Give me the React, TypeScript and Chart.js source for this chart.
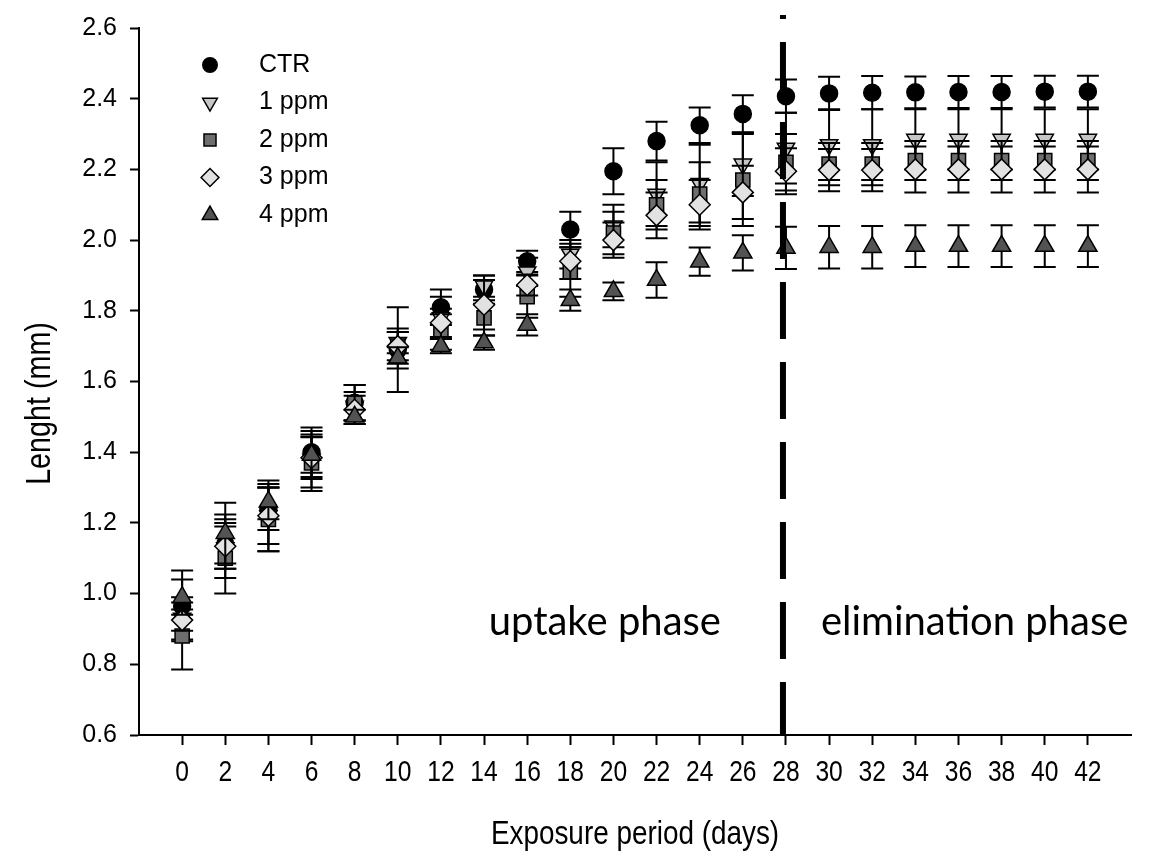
import React, { useEffect, useRef } from 'react';
import { Chart, registerables } from 'chart.js';
import { drawPoint } from 'chart.js/helpers';

Chart.register(...registerables);

// ---------------- data ----------------
const DAYS = [0, 2, 4, 6, 8, 10, 12, 14, 16, 18, 20, 22, 24, 26, 28, 30, 32, 34, 36, 38, 40, 42];

const CTR = [0.965, 1.14, 1.24, 1.40, 1.54, 1.69, 1.81, 1.86, 1.94, 2.03, 2.195, 2.28, 2.325, 2.357, 2.407, 2.415, 2.417, 2.418, 2.419, 2.419, 2.42, 2.42];
const CTR_ERR = [0.10, 0.07, 0.06, 0.07, 0.05, 0.12, 0.05, 0.04, 0.03, 0.05, 0.065, 0.055, 0.05, 0.053, 0.047, 0.047, 0.047, 0.045, 0.045, 0.045, 0.045, 0.045];

const PPM1 = [0.93, 1.13, 1.22, 1.38, 1.53, 1.71, 1.78, 1.87, 1.91, 1.96, 2.04, 2.13, 2.16, 2.215, 2.26, 2.27, 2.27, 2.285, 2.285, 2.285, 2.285, 2.285];
const PPM1_ERR = [0.06, 0.06, 0.08, 0.08, 0.04, 0.03, 0.06, 0.03, 0.04, 0.04, 0.06, 0.09, 0.11, 0.09, 0.10, 0.10, 0.10, 0.085, 0.085, 0.085, 0.085, 0.085];

const PPM2 = [0.88, 1.10, 1.21, 1.37, 1.54, 1.70, 1.74, 1.78, 1.84, 1.91, 2.02, 2.10, 2.13, 2.17, 2.22, 2.215, 2.215, 2.225, 2.225, 2.225, 2.225, 2.225];
const PPM2_ERR = [0.095, 0.10, 0.09, 0.08, 0.05, 0.05, 0.05, 0.05, 0.06, 0.07, 0.06, 0.07, 0.09, 0.13, 0.08, 0.06, 0.06, 0.055, 0.055, 0.055, 0.055, 0.055];

const PPM3 = [0.925, 1.134, 1.22, 1.384, 1.52, 1.70, 1.766, 1.817, 1.873, 1.94, 2.0, 2.07, 2.10, 2.135, 2.195, 2.198, 2.198, 2.20, 2.20, 2.20, 2.20, 2.20];
const PPM3_ERR = [0.03, 0.09, 0.10, 0.06, 0.04, 0.04, 0.04, 0.07, 0.03, 0.05, 0.05, 0.065, 0.07, 0.075, 0.065, 0.06, 0.06, 0.065, 0.065, 0.065, 0.065, 0.065];

const PPM4 = [0.99, 1.171, 1.26, 1.392, 1.50, 1.667, 1.70, 1.71, 1.76, 1.83, 1.855, 1.887, 1.939, 1.964, 1.978, 1.98, 1.98, 1.983, 1.983, 1.983, 1.983, 1.983];
const PPM4_ERR = [0.05, 0.086, 0.05, 0.05, 0.02, 0.03, 0.02, 0.02, 0.03, 0.03, 0.025, 0.05, 0.04, 0.05, 0.06, 0.06, 0.06, 0.059, 0.059, 0.059, 0.059, 0.059];

const SERIES_LABELS = ['CTR', '1 ppm', '2 ppm', '3 ppm', '4 ppm'];
const Y_TICKS = [0.6, 0.8, 1.0, 1.2, 1.4, 1.6, 1.8, 2.0, 2.2, 2.4, 2.6];
const X_TITLE = 'Exposure period (days)';
const Y_TITLE = 'Lenght (mm)';
const PHASE_DAY = 28;
const PHASE_LABELS = [
  { text: 'uptake phase', x: 19.6, y: 0.92 },
  { text: 'elimination phase', x: 36.75, y: 0.92 },
];

// ---------------- styles ----------------
const STYLES = [
  { pointStyle: 'circle', rotation: 0, radius: 8.5, fill: '#000000' },
  { pointStyle: 'triangle', rotation: 180, radius: 10, fill: '#c6c6c6' },
  { pointStyle: 'rect', rotation: 0, radius: 10, fill: '#6e6e6e' },
  { pointStyle: 'rectRot', rotation: 0, radius: 10.5, fill: '#e2e2e2' },
  { pointStyle: 'triangle', rotation: 0, radius: 10.5, fill: '#535353' },
];

const VALUES = [CTR, PPM1, PPM2, PPM3, PPM4];
const ERRORS = [CTR_ERR, PPM1_ERR, PPM2_ERR, PPM3_ERR, PPM4_ERR];

const FONT_MAIN = "'Liberation Sans', Arial, sans-serif";
const NARROW = 0.82;

function condensedText(ctx: CanvasRenderingContext2D, text: string, x: number, y: number, rot = 0) {
  ctx.save();
  ctx.translate(x, y);
  if (rot) ctx.rotate(rot);
  ctx.scale(NARROW, 1);
  ctx.fillText(text, 0, 0);
  ctx.restore();
}

const errorBarPlugin = {
  id: 'errorBars',
  beforeDatasetDraw(chart: any, args: any) {
    const errs = ERRORS[args.index];
    const vals = VALUES[args.index];
    if (!errs) return;
    const { ctx } = chart;
    const xS = chart.scales.x;
    const yS = chart.scales.y;
    ctx.save();
    ctx.strokeStyle = '#000';
    ctx.lineWidth = 2;
    for (let i = 0; i < DAYS.length; i++) {
      const x = xS.getPixelForValue(DAYS[i]);
      const yt = yS.getPixelForValue(vals[i] + errs[i]);
      const yb = yS.getPixelForValue(vals[i] - errs[i]);
      ctx.beginPath();
      ctx.moveTo(x, yt);
      ctx.lineTo(x, yb);
      ctx.moveTo(x - 11, yt);
      ctx.lineTo(x + 11, yt);
      ctx.moveTo(x - 11, yb);
      ctx.lineTo(x + 11, yb);
      ctx.stroke();
    }
    ctx.restore();
  },
};

const overlayPlugin = {
  id: 'overlay',
  afterDatasetsDraw(chart: any) {
    const { ctx, chartArea } = chart;
    const xS = chart.scales.x;
    const x = xS.getPixelForValue(PHASE_DAY) - 3;
    ctx.save();
    ctx.strokeStyle = '#000';
    ctx.lineWidth = 6;
    ctx.setLineDash([57, 23]);
    ctx.lineDashOffset = 4;
    ctx.beginPath();
    ctx.moveTo(x, chartArea.bottom);
    ctx.lineTo(x, chartArea.top - 13);
    ctx.stroke();
    ctx.restore();
  },
  afterDraw(chart: any) {
    const { ctx, chartArea } = chart;
    const xS = chart.scales.x;
    const yS = chart.scales.y;
    ctx.save();
    ctx.fillStyle = '#000';

    // x tick labels (condensed)
    ctx.font = `30px ${FONT_MAIN}`;
    ctx.textAlign = 'center';
    ctx.textBaseline = 'middle';
    DAYS.forEach((d) => {
      condensedText(ctx, String(d), xS.getPixelForValue(d), chartArea.bottom + 38);
    });

    // axis titles (condensed)
    ctx.font = `34px ${FONT_MAIN}`;
    condensedText(ctx, X_TITLE, (chartArea.left + chartArea.right) / 2, chartArea.bottom + 100);
    ctx.font = `35px ${FONT_MAIN}`;
    condensedText(ctx, Y_TITLE, chartArea.left - 99, (chartArea.top + chartArea.bottom) / 2 + 22, -Math.PI / 2);

    // legend
    const lx = chartArea.left + 71;
    const ly = chartArea.top + 37;
    ctx.font = `25px ${FONT_MAIN}`;
    ctx.textBaseline = 'middle';
    ctx.textAlign = 'left';
    SERIES_LABELS.forEach((label, i) => {
      const st = STYLES[i];
      const y = ly + i * 37.5;
      ctx.fillStyle = st.fill;
      ctx.strokeStyle = '#000';
      ctx.lineWidth = 1.5;
      drawPoint(ctx, { pointStyle: st.pointStyle, rotation: st.rotation, radius: st.radius * 0.85, borderWidth: 1.5 }, lx, y);
      ctx.fillStyle = '#000';
      ctx.fillText(label, lx + 49, y);
    });

    // phase labels
    ctx.font = `40px Lato, 'Open Sans', sans-serif`;
    ctx.textAlign = 'center';
    ctx.fillStyle = '#000';
    PHASE_LABELS.forEach((p) => {
      ctx.fillText(p.text, xS.getPixelForValue(p.x), yS.getPixelForValue(p.y));
    });
    ctx.restore();
  },
};

export default function App() {
  const canvasRef = useRef<HTMLCanvasElement | null>(null);

  useEffect(() => {
    if (!canvasRef.current) return;
    const datasets = SERIES_LABELS.map((label, i) => ({
      label,
      data: DAYS.map((d, j) => ({ x: d, y: VALUES[i][j] })),
      showLine: false,
      pointStyle: STYLES[i].pointStyle,
      rotation: STYLES[i].rotation,
      pointRadius: STYLES[i].radius,
      pointHoverRadius: STYLES[i].radius,
      backgroundColor: STYLES[i].fill,
      borderColor: '#000',
      pointBorderWidth: 1.5,
      order: 5 - i,
    }));

    const chart = new Chart(canvasRef.current, {
      type: 'scatter',
      data: { datasets },
      options: {
        animation: false,
        responsive: false,
        maintainAspectRatio: false,
        layout: { padding: { top: 23, right: 31, left: 0, bottom: 0 } },
        plugins: { legend: { display: false }, tooltip: { enabled: false } },
        scales: {
          x: {
            type: 'linear',
            min: -2,
            max: 44,
            afterFit: (s: any) => { s.height = 131; },
            afterBuildTicks: (s: any) => { s.ticks = DAYS.map((v) => ({ value: v })); },
            ticks: { display: false, autoSkip: false },
            grid: { drawOnChartArea: false, drawTicks: true, tickLength: 10, tickWidth: 2, tickColor: '#000' },
            border: { display: true, color: '#000', width: 2 },
            title: { display: false, text: X_TITLE },
          },
          y: {
            type: 'linear',
            min: 0.6,
            max: 2.6,
            afterFit: (s: any) => { s.width = 139; },
            afterBuildTicks: (s: any) => { s.ticks = Y_TICKS.map((v) => ({ value: v })); },
            ticks: {
              padding: 13,
              color: '#000',
              font: { family: FONT_MAIN, size: 25 },
              callback: (v: any) => Number(v).toFixed(1),
            },
            grid: { drawOnChartArea: false, drawTicks: true, tickLength: 9, tickWidth: 2, tickColor: '#000' },
            border: { display: true, color: '#000', width: 2 },
            title: { display: false, text: Y_TITLE },
          },
        },
      },
      plugins: [errorBarPlugin, overlayPlugin],
    } as any);

    return () => chart.destroy();
  }, []);

  return (
    <div style={{ position: 'absolute', left: 0, top: 0, width: 1162, height: 866, background: '#fff' }}>
      <canvas ref={canvasRef} width={1162} height={866} style={{ width: 1162, height: 866 }} />
    </div>
  );
}
